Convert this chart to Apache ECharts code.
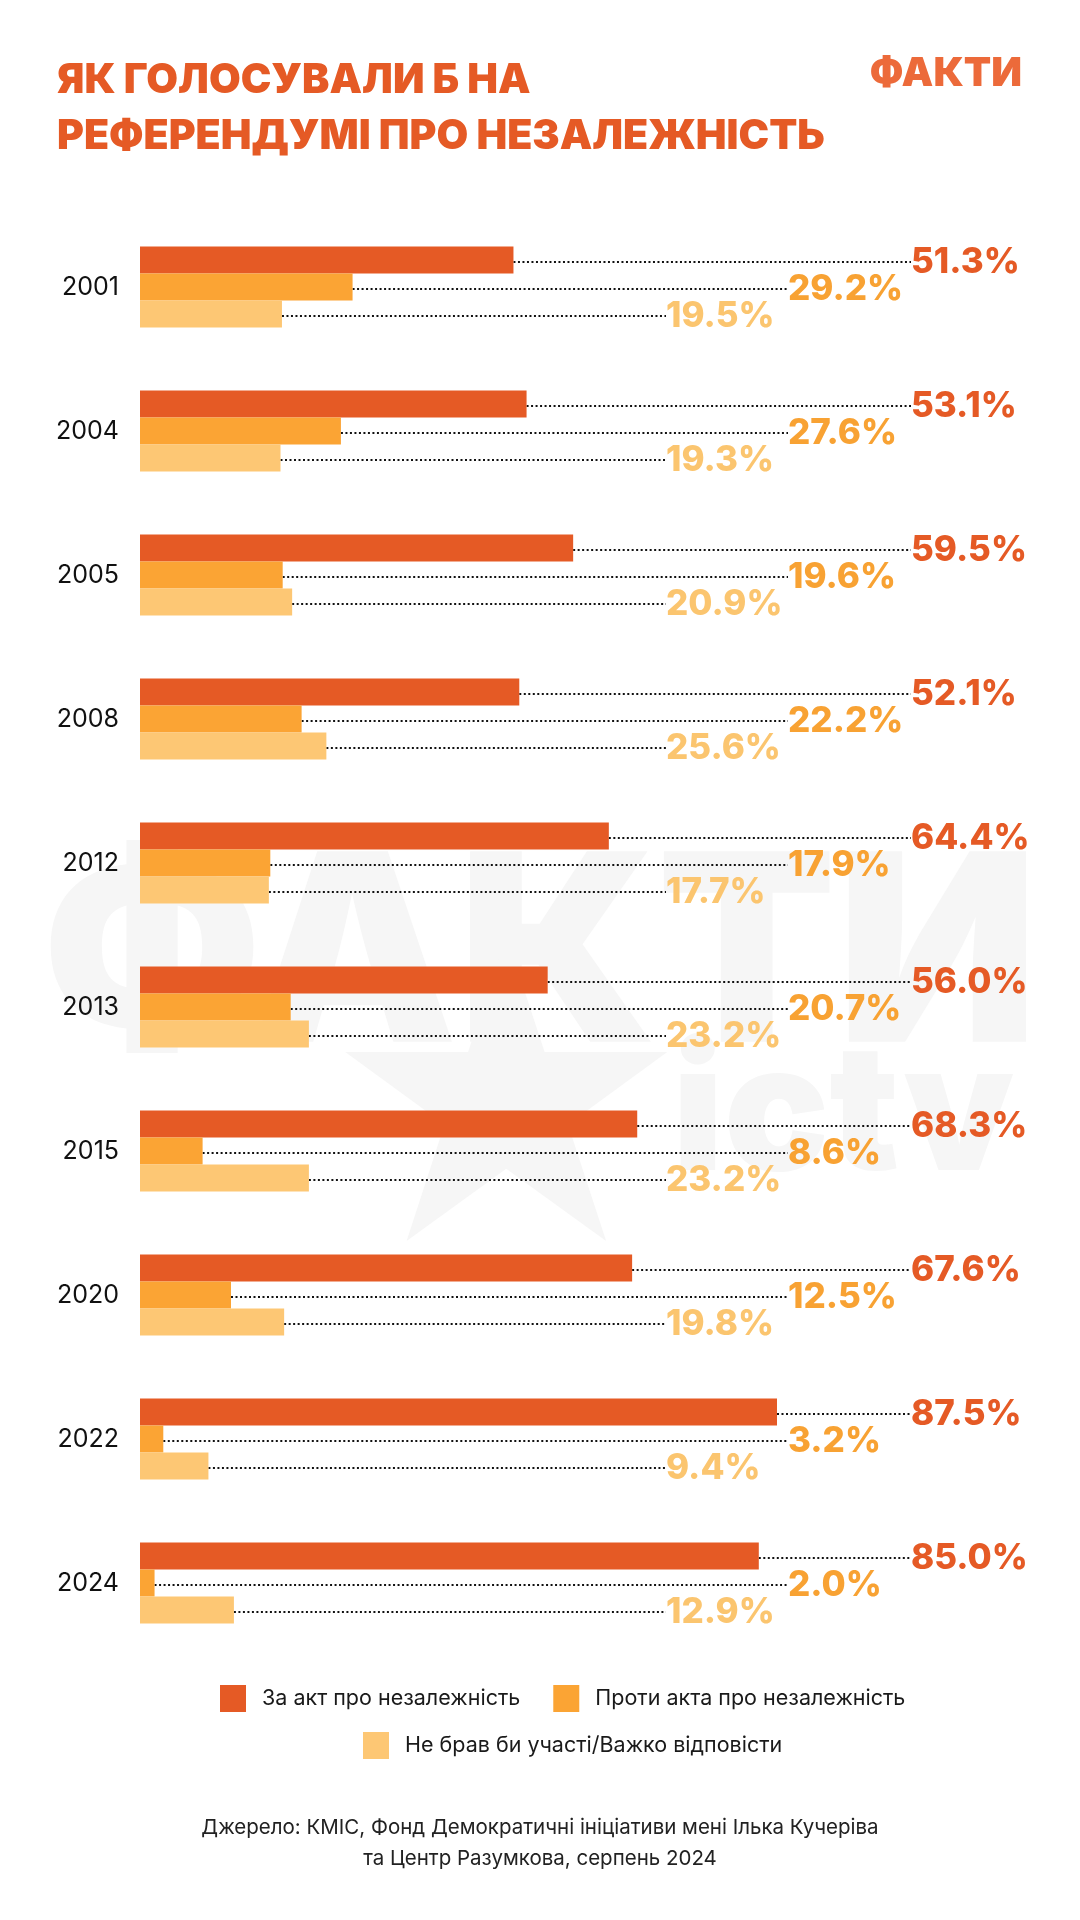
<!DOCTYPE html>
<html>
<head>
<meta charset="utf-8">
<script src="https://cdn.jsdelivr.net/npm/echarts@6/dist/echarts.min.js"></script>
<style>
  html, body { margin: 0; padding: 0; background: #fff; }
  #chart { width: 1080px; height: 1920px; }
</style>
</head>
<body>
<div id="chart"></div>
<script>
// дані з інфографіки
var years = ['2001', '2004', '2005', '2008', '2012', '2013', '2015', '2020', '2022', '2024'];
var forAct = [51.3, 53.1, 59.5, 52.1, 64.4, 56.0, 68.3, 67.6, 87.5, 85.0];
var againstAct = [29.2, 27.6, 19.6, 22.2, 17.9, 20.7, 8.6, 12.5, 3.2, 2.0];
var noAnswer = [19.5, 19.3, 20.9, 25.6, 17.7, 23.2, 23.2, 19.8, 9.4, 12.9];
var seriesNames = ['За акт про незалежність', 'Проти акта про незалежність', 'Не брав би участі/Важко відповісти'];

var colors = ['#E55A25', '#FBA434', '#FDC774'];
var labelColors = ['#E55A25', '#F8A233', '#FBC56F'];
// куди виносимо підписи (x у пікселях)
var labelX = [904, 781, 659];

var chart = echarts.init(document.getElementById('chart'));

function makeSeries(i, data) {
  return {
    name: seriesNames[i],
    type: 'bar',
    data: data,
    barWidth: 27,
    barGap: '0%',
    itemStyle: { color: colors[i] },
    label: {
      show: true,
      position: 'right',
      formatter: function (p) { return p.value.toFixed(1) + '%'; },
      color: labelColors[i],
      fontFamily: 'Inter',
      fontWeight: 800,
      fontSize: 35,
      padding: [0, 0, 0, 7]
    },
    labelLine: {
      show: true,
      lineStyle: { color: '#111', width: 2, type: [2, 2.5] }
    },
    labelLayout: function (params) {
      return {
        x: labelX[params.seriesIndex],
        y: params.rect.y + params.rect.height / 2 + 2,
        align: 'left',
        verticalAlign: 'middle'
      };
    }
  };
}

var option = {
  backgroundColor: '#fff',
  animation: false,
  graphic: [
    // водяний знак
    {
      type: 'text', z: -10, left: 'center', top: 832,
      style: { text: 'ФАКТИ', fill: '#f6f6f6', fontFamily: 'Inter', fontWeight: 900, fontSize: 262 }
    },
    {
      type: 'text', z: -10, left: 318, top: 920,
      style: { text: '★', fill: '#f6f6f6', fontFamily: 'DejaVu Sans', fontSize: 420 }
    },
    {
      type: 'text', z: -10, left: 672, top: 1030,
      style: { text: 'ictv', fill: '#f6f6f6', fontFamily: 'Inter', fontWeight: 900, fontSize: 175 }
    },
    // заголовок
    {
      type: 'text', left: 57, top: 53,
      style: {
        text: 'ЯК ГОЛОСУВАЛИ Б НА\nРЕФЕРЕНДУМІ ПРО НЕЗАЛЕЖНІСТЬ',
        fill: '#E55A25', fontFamily: 'Inter', fontWeight: 900, fontSize: 41, lineHeight: 56
      }
    },
    {
      type: 'text', right: 58, top: 54,
      style: { text: 'ФАКТИ', fill: '#EC6A3A', fontFamily: 'Inter', fontWeight: 900, fontSize: 40 }
    },
    // джерело
    {
      type: 'text', left: 'center', top: 1817,
      style: {
        text: 'Джерело: КМІС, Фонд Демократичні ініціативи мені Ілька Кучеріва',
        fill: '#222', fontFamily: 'Inter', fontSize: 20.5
      }
    },
    {
      type: 'text', left: 'center', top: 1848,
      style: {
        text: 'та Центр Разумкова, серпень 2024',
        fill: '#222', fontFamily: 'Inter', fontSize: 20.5
      }
    }
  ],
  legend: [
    {
      data: seriesNames.slice(0, 2),
      left: 215, top: 1680,
      itemWidth: 26, itemHeight: 27, itemGap: 33,
      icon: 'rect',
      textStyle: { color: '#1a1a1a', fontFamily: 'Inter', fontSize: 21.5, padding: [0, 0, 0, 11] }
    },
    {
      data: seriesNames.slice(2),
      left: 358, top: 1727,
      itemWidth: 26, itemHeight: 27,
      icon: 'rect',
      textStyle: { color: '#1a1a1a', fontFamily: 'Inter', fontSize: 21.5, padding: [0, 0, 0, 11] }
    }
  ],
  grid: { left: 140, width: 728, top: 215, height: 1440 },
  xAxis: {
    type: 'value', min: 0, max: 100,
    show: false
  },
  yAxis: {
    type: 'category',
    data: years,
    inverse: true,
    axisLine: { show: false },
    axisTick: { show: false },
    axisLabel: { color: '#111', fontFamily: 'Inter', fontSize: 25, margin: 21 }
  },
  series: [
    makeSeries(0, forAct),
    makeSeries(1, againstAct),
    makeSeries(2, noAnswer)
  ]
};

chart.setOption(option);
</script>
</body>
</html>
